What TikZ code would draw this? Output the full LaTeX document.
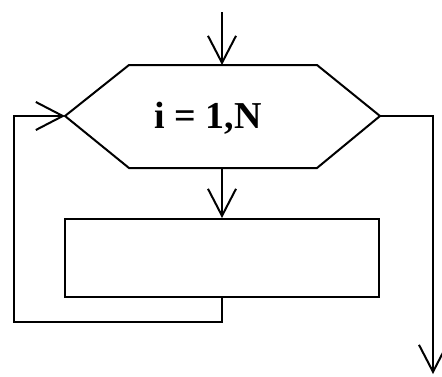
\documentclass[tikz,border=0pt]{standalone}
\usepackage{fontspec}
\setmainfont{Liberation Serif}
\usetikzlibrary{arrows.meta}
\begin{document}
\begin{tikzpicture}[x=1pt,y=-1pt,
  line width=2pt,
  flow/.style={-{Straight Barb[length=27pt,width=28pt,line width=2pt]}},
  blockbox/.style={draw,line width=2pt,minimum width=314pt,minimum height=78pt,inner sep=0pt}]
\useasboundingbox (0,0) rectangle (442,376);
% hexagon (loop header)
\coordinate (hl) at (65,116);
\coordinate (hr) at (380,116);
\coordinate (ht) at (222,65);
\coordinate (hb) at (222,168);
\draw (129,65) -- (317,65) -- (hr) -- (317,168) -- (129,168) -- (hl) -- cycle;
\node[font=\bfseries\fontsize{38}{42}\selectfont,inner sep=0pt] (lbl) at (208,118) {i = 1,N};
% body
\node[blockbox] (body) at (222,258) {};
% connectors
\coordinate (start) at (222,12);
\coordinate (lb) at (222,322);
\coordinate (ll) at (14,322);
\coordinate (lt) at (14,116);
\coordinate (rt) at (433,116);
\coordinate (stop) at (433,374);
\draw[flow] (start) -- (ht);
\draw[flow] (hb) -- (body.north);
\draw[flow] (body.south) -- (lb) -- (ll) -- (lt) -- (hl);
\draw[flow] (hr) -- (rt) -- (stop);
\end{tikzpicture}
\end{document}
